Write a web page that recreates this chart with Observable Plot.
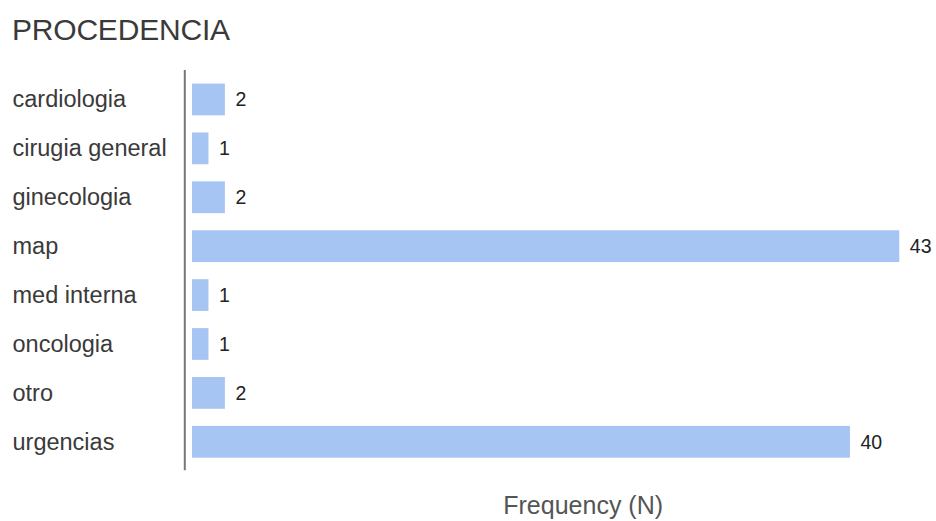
<!DOCTYPE html>
<html>
<head>
<meta charset="utf-8">
<script src="https://cdn.jsdelivr.net/npm/d3@7"></script>
<script src="https://cdn.jsdelivr.net/npm/@observablehq/plot@0.6"></script>
<style>
  html, body { margin: 0; padding: 0; background: #fff; }
  body { width: 936px; height: 521px; position: relative; overflow: hidden; font-family: "Liberation Sans", Arial, sans-serif; }
  #title { position: absolute; left: 12px; top: 14.5px; font-size: 30px; line-height: 1; color: #3a3a3a; letter-spacing: -0.2px; }
  #chart { position: absolute; left: 0; top: 60px; }
  #chart svg { font-family: "Liberation Sans", Arial, sans-serif; overflow: visible; }
</style>
</head>
<body>
<div id="title">PROCEDENCIA</div>
<div id="chart"></div>
<script>
const categories = ["cardiologia", "cirugia general", "ginecologia", "map", "med interna", "oncologia", "otro", "urgencias"];
const counts = [2, 1, 2, 43, 1, 1, 2, 40];
const xLabel = "Frequency (N)";

const data = categories.map((c, i) => ({cat: c, n: counts[i]}));

const chart = Plot.plot({
  width: 936,
  height: 461,
  marginLeft: 192,
  marginRight: 36.7,
  marginTop: 15,
  marginBottom: 54.75,
  style: {background: "transparent"},
  x: {domain: [0, 43], axis: null},
  y: {domain: categories, paddingInner: 0.35, paddingOuter: 0.175, round: false, axis: null},
  marks: [
    Plot.barX(data, {x: "n", y: "cat", fill: "#a7c5f3"}),
    Plot.text(data, {x: "n", y: "cat", text: d => String(d.n), dx: 10, textAnchor: "start", fontSize: 19.5, fill: "#222"}),
    Plot.axisY({tickSize: 0, label: null, textAnchor: "start", dx: -171, fontSize: 23.5, fill: "#3a3a3a"}),
    Plot.ruleX([0], {dx: -7.7, stroke: "#777", strokeWidth: 2, insetTop: -5, insetBottom: -4}),
    Plot.text([xLabel], {text: d => d, frameAnchor: "bottom", dy: 47, dx: 37, fontSize: 25, fill: "#555"})
  ]
});
document.getElementById("chart").appendChild(chart);
</script>
</body>
</html>
